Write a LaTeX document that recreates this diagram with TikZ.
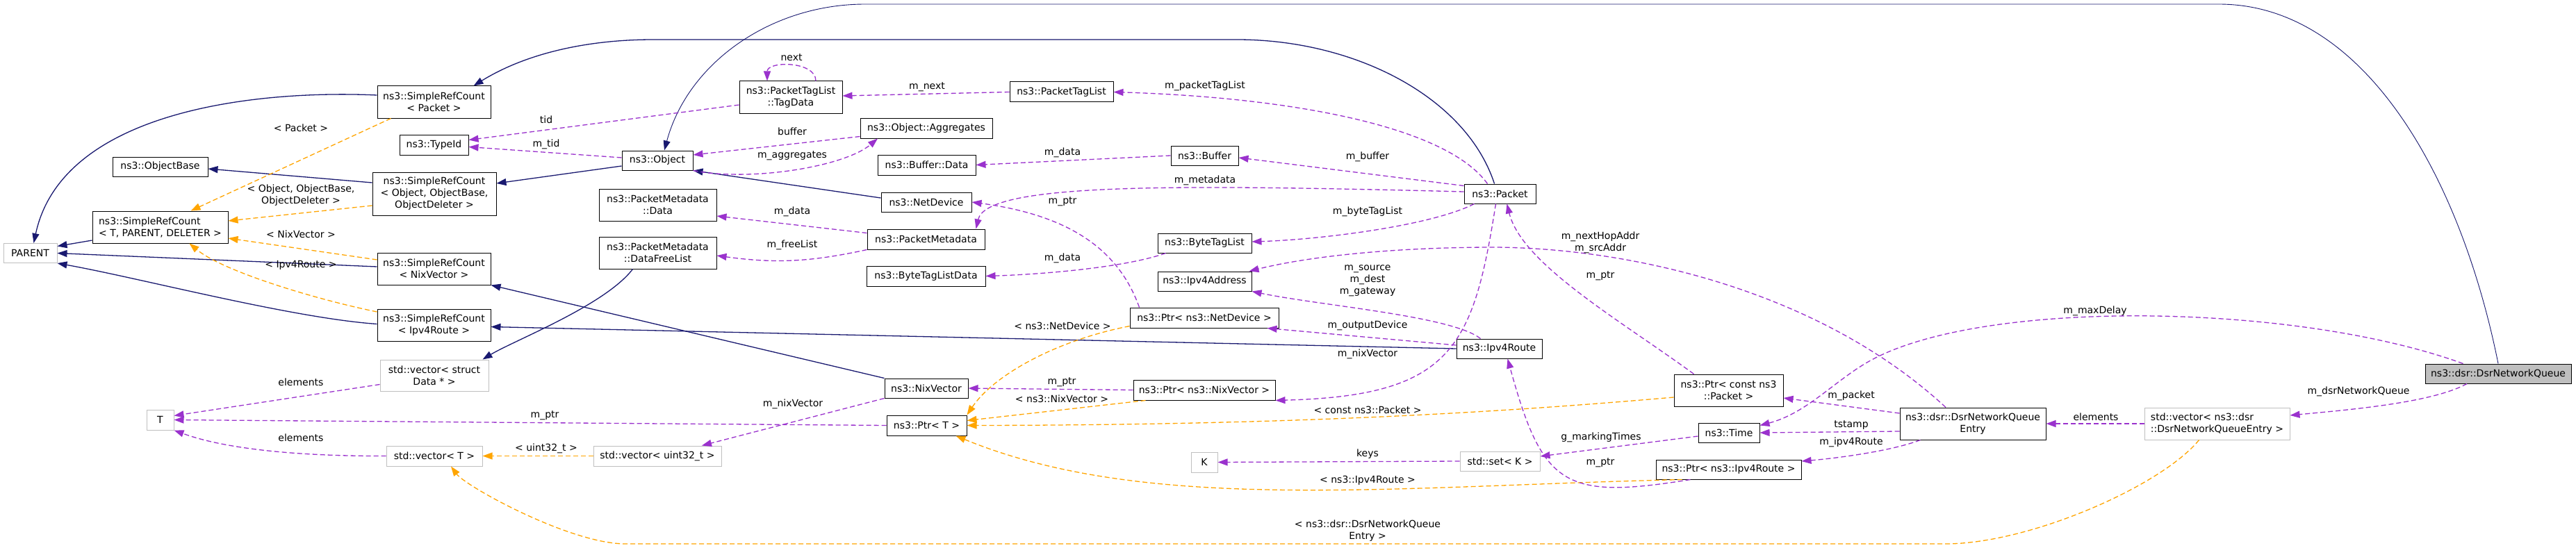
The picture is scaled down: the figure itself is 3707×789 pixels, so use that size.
\documentclass[tikz,border=0pt]{standalone}
\usepackage{fontspec}
\setmainfont{DejaVu Sans}
\usetikzlibrary{arrows.meta}

\definecolor{edgeNavy}{HTML}{191970}
\definecolor{edgeOrchid}{HTML}{9A32CD}
\definecolor{edgeOrange}{HTML}{FFA500}
\definecolor{boxGrey}{HTML}{BFBFBF}

\tikzset{
    objBox/.style={rectangle, draw=black, fill=white, line width=1pt, align=center, inner sep=2pt, minimum height=28pt},
    objBoxGrey/.style={objBox, draw=boxGrey},
    objBoxRoot/.style={objBox, fill=boxGrey},
    edgeLabel/.style={inner sep=0pt, align=center},
    arrowInherit/.style={draw=edgeNavy, line width=1.3pt, -{Triangle[length=14pt,width=10pt]}},
    arrowUse/.style={draw=edgeOrchid, line width=1.3pt, dash pattern=on 7pt off 4pt, -{Triangle[length=14pt,width=10pt]}},
    arrowTemplate/.style={draw=edgeOrange, line width=1.3pt, dash pattern=on 7pt off 4pt, -{Triangle[length=14pt,width=10pt]}}
}

\begin{document}
\begin{tikzpicture}[x=1pt, y=1pt, font=\fontsize{14}{17}\selectfont]
  \useasboundingbox[fill=white] (0,0) rectangle (3707,-789);

  \node (par) [objBoxGrey, minimum width=77pt] at (43.5,-364.5) {PARENT};
  \node (srcT) [objBox, minimum width=195pt, minimum height=46pt, align=left] at (230.5,-327) {ns3::SimpleRefCount\\< T, PARENT, DELETER >};
  \node (objBase) [objBox, minimum width=137pt] at (230.5,-240) {ns3::ObjectBase};
  \node (tT) [objBoxGrey, minimum width=39pt, minimum height=29pt] at (230.5,-604.5) {T};

  \node (srcPkt) [objBox, minimum width=163pt, minimum height=46pt] at (624.5,-147) {ns3::SimpleRefCount\\< Packet >};
  \node (typeId) [objBox, minimum width=99pt, minimum height=29pt] at (624.5,-208.5) {ns3::TypeId};
  \node (srcObj) [objBox, minimum width=178pt, minimum height=62pt] at (625,-279) {ns3::SimpleRefCount\\< Object, ObjectBase,\\ObjectDeleter >};
  \node (srcNix) [objBox, minimum width=163pt, minimum height=46pt] at (624.5,-387) {ns3::SimpleRefCount\\< NixVector >};
  \node (srcIp) [objBox, minimum width=163pt, minimum height=46pt] at (624.5,-468.5) {ns3::SimpleRefCount\\< Ipv4Route >};
  \node (vecData) [objBoxGrey, minimum width=156pt, minimum height=45pt] at (625,-540.5) {std::vector< struct\\Data * >};
  \node (vecT) [objBoxGrey, minimum width=138pt, minimum height=29pt] at (625,-656.5) {std::vector< T >};

  \node (obj) [objBox, minimum width=102pt] at (946,-231) {ns3::Object};
  \node (pmData) [objBox, minimum width=169pt, minimum height=46pt] at (946.5,-295) {ns3::PacketMetadata\\::Data};
  \node (freeList) [objBox, minimum width=169pt, minimum height=46pt] at (946.5,-364) {ns3::PacketMetadata\\::DataFreeList};
  \node (vecU32) [objBoxGrey, minimum width=184pt, minimum height=29pt] at (946,-656.5) {std::vector< uint32\_t >};

  \node (tagData) [objBox, minimum width=148pt, minimum height=46pt] at (1138,-140) {ns3::PacketTagList\\::TagData};
  \node (aggr) [objBox, minimum width=190pt, minimum height=29pt] at (1333,-184.5) {ns3::Object::Aggregates};
  \node (bufData) [objBox, minimum width=141pt, minimum height=29pt] at (1333.5,-237.5) {ns3::Buffer::Data};
  \node (netDev) [objBox, minimum width=130pt] at (1333,-291) {ns3::NetDevice};
  \node (pMeta) [objBox, minimum width=169pt, minimum height=29pt] at (1332.5,-344.5) {ns3::PacketMetadata};
  \node (btlData) [objBox, minimum width=171pt, minimum height=29pt] at (1332.5,-397.5) {ns3::ByteTagListData};
  \node (nixVec) [objBox, minimum width=120pt] at (1333,-559) {ns3::NixVector};
  \node (ptrT) [objBox, minimum width=115pt, minimum height=29pt] at (1333.5,-612.5) {ns3::Ptr< T >};

  \node (pktTag) [objBox, minimum width=149pt, minimum height=29pt] at (1527.5,-132.5) {ns3::PacketTagList};
  \node (buf) [objBox, minimum width=97pt] at (1733.5,-224) {ns3::Buffer};
  \node (btl) [objBox, minimum width=135pt] at (1733.5,-350) {ns3::ByteTagList};
  \node (ipAddr) [objBox, minimum width=135pt] at (1733.5,-405) {ns3::Ipv4Address};
  \node (ptrNd) [objBox, minimum width=214pt, minimum height=29pt] at (1733,-457.5) {ns3::Ptr< ns3::NetDevice >};
  \node (ptrNix) [objBox, minimum width=204pt, minimum height=29pt] at (1733,-561.5) {ns3::Ptr< ns3::NixVector >};
  \node (kK) [objBoxGrey, minimum width=38pt, minimum height=29pt] at (1733,-665.5) {K};

  \node (pkt) [objBox, minimum width=103pt] at (2158.5,-279) {ns3::Packet};
  \node (ipRoute) [objBox, minimum width=123pt] at (2157.5,-502) {ns3::Ipv4Route};
  \node (setK) [objBoxGrey, minimum width=115pt] at (2158.5,-664) {std::set< K >};

  \node (ptrCPkt) [objBox, minimum width=157pt, minimum height=46pt] at (2487.5,-562) {ns3::Ptr< const ns3\\::Packet >};
  \node (tm) [objBox, minimum width=88pt] at (2488,-623) {ns3::Time};
  \node (ptrIp) [objBox, minimum width=209pt] at (2487.5,-676) {ns3::Ptr< ns3::Ipv4Route >};
  \node (entry) [objBox, minimum width=210pt, minimum height=46pt] at (2839,-610) {ns3::dsr::DsrNetworkQueue\\Entry};
  \node (vecEntry) [objBoxGrey, minimum width=209pt, minimum height=46pt, align=left] at (3190.5,-610) {std::vector< ns3::dsr\\::DsrNetworkQueueEntry >};
  \node (dsrq) [objBoxRoot, minimum width=210pt] at (3595,-538) {ns3::dsr::DsrNetworkQueue};

  \draw[arrowInherit] ([yshift=10pt]srcPkt.west) .. controls (364,-129) and (89,-161) .. ([xshift=5pt]par.north);
  \draw[arrowInherit] ([yshift=-19pt]srcT.west) -- ([yshift=10pt]par.east);
  \draw[arrowInherit] ([yshift=3pt]srcNix.west) -- (par.east);
  \draw[arrowInherit] ([yshift=2pt]srcIp.west) .. controls (420,-458) and (200,-400) .. (par.south east);
  \draw[arrowInherit] ([yshift=16pt]srcObj.west) -- ([yshift=-3pt]objBase.east);
  \draw[arrowInherit] ([yshift=-8pt]obj.west) -- ([yshift=15pt]srcObj.east);
  \draw[arrowInherit] ([yshift=6pt]netDev.west) -- (obj.south east);
  \draw[arrowInherit] ([xshift=-8pt]pkt.north) .. controls (2110,-140) and (1950,-57) .. (1780,-57) -- (940,-57) .. controls (850,-57) and (760,-75) .. ([xshift=57pt]srcPkt.north);
  \draw[arrowInherit, line width=0.9pt] (dsrq.north) .. controls (3540,-250) and (3400,-6) .. (3193,-6) -- (1245,-6) .. controls (1110,-6) and (990,-90) .. ([xshift=10pt]obj.north);
  \draw[arrowInherit] (nixVec.north west) -- (srcNix.south east);
  \draw[arrowInherit] (ipRoute.west) -- ([yshift=-2pt]srcIp.east);
  \draw[arrowInherit] ([xshift=-36pt]freeList.south) .. controls (870,-440) and (740,-490) .. ([xshift=-9pt]vecData.north east);

  \draw[arrowTemplate] ([xshift=20pt]srcPkt.south west) -- ([xshift=44pt]srcT.north);
  \draw[arrowTemplate] ([yshift=-17pt]srcObj.west) -- ([yshift=9pt]srcT.east);
  \draw[arrowTemplate] ([yshift=13pt]srcNix.west) -- ([yshift=-16pt]srcT.east);
  \draw[arrowTemplate] ([yshift=-4pt]srcIp.north west) .. controls (450,-430) and (320,-390) .. ([xshift=42pt]srcT.south);
  \draw[arrowTemplate] (vecU32.west) -- (vecT.east);
  \draw[arrowTemplate] ([yshift=-12pt]ptrNd.west) .. controls (1520,-490) and (1430,-540) .. (ptrT.north east);
  \draw[arrowTemplate] ([xshift=18pt]ptrNix.south west) -- ([yshift=7pt]ptrT.east);
  \draw[arrowTemplate] ([yshift=-10pt]ptrCPkt.west) .. controls (2200,-590) and (1900,-612) .. (ptrT.east);
  \draw[arrowTemplate] ([xshift=38pt]ptrIp.south west) .. controls (2000,-700) and (1650,-740) .. ([xshift=-16pt]ptrT.south east);
  \draw[arrowTemplate] ([xshift=-26pt]vecEntry.south) .. controls (3110,-700) and (2920,-783) .. (2800,-783) -- (900,-783) .. controls (820,-783) and (670,-700) .. ([xshift=24pt]vecT.south);

  \draw[arrowUse] ([xshift=36pt]tagData.north) .. controls +(0,29) and +(0,29) .. ([xshift=-34pt]tagData.north);
  \draw[arrowUse] (pktTag.west) -- ([yshift=2pt]tagData.east);
  \draw[arrowUse] ([yshift=-11pt]tagData.west) -- ([yshift=7pt]typeId.east);
  \draw[arrowUse] ([yshift=4pt]obj.west) -- ([yshift=-3pt]typeId.east);
  \draw[arrowUse] ([yshift=-12pt]aggr.west) -- ([yshift=8pt]obj.east);
  \draw[arrowUse] (obj.south east) .. controls (1080,-262) and (1215,-240) .. ([xshift=-70pt]aggr.south);
  \draw[arrowUse] (buf.west) -- (bufData.east);
  \draw[arrowUse] ([xshift=34pt]pkt.north west) .. controls (2080,-180) and (1850,-140) .. (pktTag.east);
  \draw[arrowUse] ([yshift=-3pt]pkt.north west) -- ([yshift=-3pt]buf.east);
  \draw[arrowUse] ([yshift=3pt]pkt.west) .. controls (1700,-266) and (1420,-262) .. ([xshift=-13pt]pMeta.north east);
  \draw[arrowUse] ([yshift=9pt]pMeta.west) -- ([yshift=-16pt]pmData.east);
  \draw[arrowUse] (pMeta.south west) to[bend left=10] ([yshift=-4pt]freeList.east);
  \draw[arrowUse] ([xshift=15pt]pkt.south west) .. controls (2060,-325) and (1900,-345) .. ([yshift=2pt]btl.east);
  \draw[arrowUse] ([xshift=12pt]btl.south west) .. controls (1620,-385) and (1500,-395) .. (btlData.east);
  \draw[arrowUse] ([xshift=14pt]ptrNd.north west) .. controls (1610,-360) and (1540,-310) .. (netDev.east);
  \draw[arrowUse] ([xshift=35pt]ipRoute.north west) .. controls (2090,-455) and (1900,-440) .. (ipAddr.south east);
  \draw[arrowUse] ([xshift=-39pt]entry.north) .. controls (2620,-420) and (2350,-357) .. (2150,-356) .. controls (2000,-356) and (1880,-370) .. ([xshift=-4pt]ipAddr.north east);
  \draw[arrowUse] ([yshift=5pt]ipRoute.west) -- ([xshift=-17pt]ptrNd.south east);
  \draw[arrowUse] ([xshift=-6pt]pkt.south) .. controls (2120,-500) and (2090,-570) .. (ptrNix.south east);
  \draw[arrowUse] (ptrNix.west) -- (nixVec.east);
  \draw[arrowUse] (nixVec.south west) -- ([xshift=64pt]vecU32.north);
  \draw[arrowUse] (ptrT.west) -- (tT.east);
  \draw[arrowUse] ([yshift=-13pt]vecData.west) -- ([yshift=6pt]tT.east);
  \draw[arrowUse] (vecT.west) .. controls (420,-657) and (320,-645) .. (tT.south east);
  \draw[arrowUse] ([xshift=-50pt]ptrCPkt.north) .. controls (2330,-460) and (2190,-380) .. ([xshift=10pt]pkt.south);
  \draw[arrowUse] ([yshift=15pt]entry.west) -- ([yshift=-11pt]ptrCPkt.east);
  \draw[arrowUse] ([yshift=-11pt]entry.west) -- (tm.east);
  \draw[arrowUse] ([xshift=30pt]entry.south west) .. controls (2720,-650) and (2640,-660) .. ([yshift=12pt]ptrIp.east);
  \draw[arrowUse] ([xshift=50pt]ptrIp.south west) .. controls (2250,-720) and (2220,-700) .. ([xshift=12pt]ipRoute.south);
  \draw[arrowUse] (setK.west) -- (kK.east);
  \draw[arrowUse] ([yshift=-5pt]tm.west) -- ([yshift=7pt]setK.east);
  \draw[arrowUse] ([xshift=55pt]dsrq.north west) .. controls (3300,-435) and (2850,-430) .. (2690,-520) .. controls (2640,-548) and (2600,-595) .. ([yshift=-4pt]tm.north east);
  \draw[arrowUse] ([xshift=-45pt]dsrq.south) .. controls (3500,-580) and (3380,-590) .. ([yshift=12pt]vecEntry.east);
  \draw[arrowUse] (vecEntry.west) -- (entry.east);

  \node (lTplPacket) [edgeLabel] at (433,-184) {< Packet >};
  \node (lTplObject) [edgeLabel] at (433,-281) {< Object, ObjectBase,\\ObjectDeleter >};
  \node (lTplNix) [edgeLabel] at (433,-337) {< NixVector >};
  \node (lTplIpv4) [edgeLabel] at (433,-382) {< Ipv4Route >};
  \node (lElemData) [edgeLabel] at (433,-550) {elements};
  \node (lElemT) [edgeLabel] at (433,-630) {elements};
  \node (lPtrT) [edgeLabel] at (784,-598) {m\_ptr};
  \node (lTplU32) [edgeLabel] at (786,-646) {< uint32\_t >};
  \node (lTid) [edgeLabel] at (786,-172) {tid};
  \node (lMtid) [edgeLabel] at (786,-208) {m\_tid};
  \node (lNext) [edgeLabel] at (1139,-83) {next};
  \node (lBuffer) [edgeLabel] at (1140,-189) {buffer};
  \node (lAggr) [edgeLabel] at (1140,-224) {m\_aggregates};
  \node (lPmData) [edgeLabel] at (1140,-305) {m\_data};
  \node (lFree) [edgeLabel] at (1140,-353) {m\_freeList};
  \node (lNixVec) [edgeLabel] at (1141,-582) {m\_nixVector};
  \node (lMnext) [edgeLabel] at (1334,-125) {m\_next};
  \node (lBufData) [edgeLabel] at (1529,-220) {m\_data};
  \node (lNdPtr) [edgeLabel] at (1529,-290) {m\_ptr};
  \node (lBtlData) [edgeLabel] at (1529,-372) {m\_data};
  \node (lTplNd) [edgeLabel] at (1529,-469) {< ns3::NetDevice >};
  \node (lNixPtr) [edgeLabel] at (1528,-550) {m\_ptr};
  \node (lTplNixVec) [edgeLabel] at (1528,-574) {< ns3::NixVector >};
  \node (lPktTag) [edgeLabel] at (1734,-124) {m\_packetTagList};
  \node (lMeta) [edgeLabel] at (1734,-260) {m\_metadata};
  \node (lBuf) [edgeLabel] at (1968,-226) {m\_buffer};
  \node (lBtl) [edgeLabel] at (1968,-305) {m\_byteTagList};
  \node (lAddr) [edgeLabel] at (1968,-404) {m\_source\\m\_dest\\m\_gateway};
  \node (lOut) [edgeLabel] at (1968,-469) {m\_outputDevice};
  \node (lMnix) [edgeLabel] at (1968,-510) {m\_nixVector};
  \node (lTplCPkt) [edgeLabel] at (1968,-590) {< const ns3::Packet >};
  \node (lKeys) [edgeLabel] at (1968,-654) {keys};
  \node (lTplIp) [edgeLabel] at (1968,-692) {< ns3::Ipv4Route >};
  \node (lTplEntry) [edgeLabel] at (1968,-764) {< ns3::dsr::DsrNetworkQueue\\Entry >};
  \node (lHop) [edgeLabel] at (2303,-349) {m\_nextHopAddr\\m\_srcAddr};
  \node (lPktPtr) [edgeLabel] at (2303,-397) {m\_ptr};
  \node (lMark) [edgeLabel] at (2304,-630) {g\_markingTimes};
  \node (lIpPtr) [edgeLabel] at (2303,-666) {m\_ptr};
  \node (lMPacket) [edgeLabel] at (2664,-570) {m\_packet};
  \node (lTstamp) [edgeLabel] at (2664,-612) {tstamp};
  \node (lIpRoute) [edgeLabel] at (2664,-637) {m\_ipv4Route};
  \node (lElemEntry) [edgeLabel] at (3016,-600) {elements};
  \node (lMaxDelay) [edgeLabel] at (3015,-448) {m\_maxDelay};
  \node (lQueue) [edgeLabel] at (3394,-564) {m\_dsrNetworkQueue};
\end{tikzpicture}
\end{document}
